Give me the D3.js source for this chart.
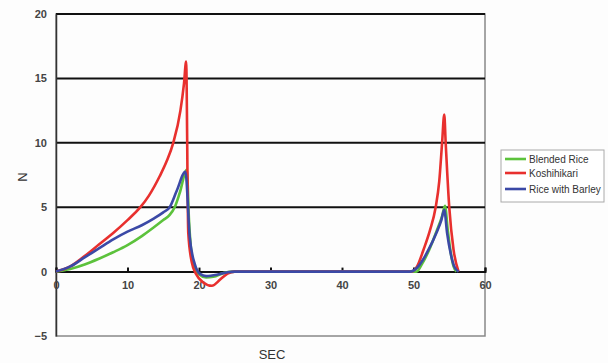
<!DOCTYPE html>
<meta charset="utf-8">
<html>
<script src="https://d3js.org/d3.v7.min.js"></script>
<body style="margin:0;background:#fdfdfd;">
<style>
    .tick text { font-family: "Liberation Sans", Arial, sans-serif; font-size: 11px; fill: #444; font-weight: bold; }
    .lbl { font-family: "Liberation Sans", Arial, sans-serif; font-size: 13px; fill: #333; }
    .leg { font-family: "Liberation Sans", Arial, sans-serif; font-size: 10px; fill: #333; }
</style>
<div id="chart"></div>
<script>
    // series data (seconds, newtons)
    var secBlended = [0, 2, 4, 6, 8, 10, 12, 13.6, 15, 15.9, 16.6, 17.3, 18.3, 18.6, 18.9, 19.4, 20, 21, 22, 23.5, 25, 50.4, 51.2, 52.2, 53.2, 54, 54.4, 54.8, 55.2, 55.6, 56];
    var nBlended   = [0, 0.2, 0.55, 1.0, 1.5, 2.05, 2.75, 3.4, 4.0, 4.4, 5.0, 6.1, 7.9, 4.0, 1.7, 0.4, -0.2, -0.45, -0.4, -0.1, 0, 0, 0.6, 1.7, 3.1, 4.3, 5.1, 3.2, 1.5, 0.4, 0];

    var secKoshi = [0, 2, 4, 6, 8, 10, 11.8, 13, 14.5, 15.5, 16.4, 17.4, 17.9, 18.2, 18.5, 19, 19.6, 20.5, 21.8, 23, 24, 25, 49.7, 50.5, 51.4, 52.3, 53.1, 53.6, 54, 54.3, 54.5, 55, 55.6, 56.3];
    var nKoshi   = [0, 0.4, 1.2, 2.1, 3.0, 4.0, 5.0, 5.9, 7.4, 8.6, 10.0, 12.5, 14.6, 16.3, 3.0, 0.7, -0.2, -0.8, -1.1, -0.6, -0.15, 0, 0, 0.4, 1.7, 3.2, 5.0, 7.0, 10.0, 12.2, 10.0, 5.0, 1.7, 0];

    var secBarley = [0, 2, 4, 6, 8, 10, 12, 13.6, 15, 15.9, 16.9, 18.1, 18.7, 19.4, 20.2, 21, 22.5, 24, 25, 49.5, 50.5, 51.3, 52.1, 53.2, 53.9, 54.3, 54.7, 55.2, 55.7, 56.3];
    var nBarley   = [0, 0.4, 1.1, 1.8, 2.5, 3.1, 3.6, 4.1, 4.6, 5.0, 6.3, 7.75, 2.7, 0.6, -0.2, -0.35, -0.25, -0.05, 0, 0, 0.3, 0.9, 1.7, 3.0, 4.0, 4.8, 3.0, 1.4, 0.4, 0];

    var seriesNames = ["Blended Rice", "Koshihikari", "Rice with Barley"];
    var seriesColors = ["#5cc23c", "#e8302e", "#3b49a6"];
    var xTicks = [0, 10, 20, 30, 40, 50, 60];
    var yTicks = [-5, 0, 5, 10, 15, 20];

    var width = 608, height = 363;
    var margin = {top: 14, right: 123, bottom: 27, left: 56};

    var svg = d3.select("#chart").append("svg")
        .attr("width", width)
        .attr("height", height);

    var x = d3.scaleLinear().domain([0, 60]).range([margin.left, width - margin.right]);
    var y = d3.scaleLinear().domain([-5, 20]).range([height - margin.bottom, margin.top]);

    //frame
    svg.append("rect")
        .attr("x", x(0)).attr("y", y(20))
        .attr("width", x(60) - x(0)).attr("height", y(-5) - y(20))
        .attr("fill", "none").attr("stroke", "#888").attr("stroke-width", 1.5);

    //grid lines
    svg.selectAll("line.grid")
        .data([5, 10, 15, 20])
        .enter().append("line")
        .attr("class", "grid")
        .attr("x1", x(0)).attr("x2", x(60))
        .attr("y1", function(d) {return y(d);})
        .attr("y2", function(d) {return y(d);})
        .attr("stroke", "#111").attr("stroke-width", 2);

    //left axis
    var yAxis = svg.append("g")
        .attr("transform", "translate(" + x(0) + ",0)")
        .call(d3.axisLeft(y).tickValues(yTicks).tickSize(0).tickPadding(9)
            .tickFormat(function(d) {return d < 0 ? "\u2212" + Math.abs(d) : d;}));
    yAxis.select(".domain").attr("stroke", "#333").attr("stroke-width", 1.5);

    //zero line with ticks
    var xAxis = svg.append("g")
        .attr("transform", "translate(0," + y(0) + ")")
        .call(d3.axisTop(x).tickValues(xTicks).tickSize(4).tickFormat(""));
    xAxis.select(".domain").attr("stroke", "#111").attr("stroke-width", 2);
    xAxis.selectAll(".tick line").attr("stroke", "#111").attr("stroke-width", 2);

    svg.append("g")
        .attr("transform", "translate(0," + y(0) + ")")
        .call(d3.axisBottom(x).tickValues(xTicks).tickSize(0).tickPadding(10))
        .select(".domain").remove();

    //axis labels
    svg.append("text")
        .attr("class", "lbl")
        .attr("transform", "translate(27," + ((y(20) + y(-5)) / 2 + 2) + ") rotate(-90)")
        .attr("text-anchor", "middle")
        .text("N");

    svg.append("text")
        .attr("class", "lbl")
        .attr("x", 272).attr("y", 359)
        .attr("text-anchor", "middle")
        .text("SEC");

    //lines
    var allSecs = [secBlended, secKoshi, secBarley];
    var allN = [nBlended, nKoshi, nBarley];

    var line = d3.line()
        .x(function(d) {return x(d[0]);})
        .y(function(d) {return y(d[1]);})
        .curve(d3.curveMonotoneX);

    var drawOrder = [0, 1, 2];
    drawOrder.forEach(function(i) {
        var pts = allSecs[i].map(function(s, j) {return [s, allN[i][j]];});
        svg.append("path")
            .datum(pts)
            .attr("d", line)
            .attr("fill", "none")
            .attr("stroke", seriesColors[i])
            .attr("stroke-width", 2.6)
            .attr("stroke-linejoin", "round");
    });

    //legend
    var legend = svg.append("g").attr("transform", "translate(501,150)");
    legend.append("rect")
        .attr("width", 103).attr("height", 52)
        .attr("fill", "#fff").attr("stroke", "#aaa").attr("stroke-width", 1);

    var legY = [9, 23, 39];
    seriesNames.forEach(function(name, i) {
        legend.append("line")
            .attr("x1", 4).attr("x2", 25)
            .attr("y1", legY[i]).attr("y2", legY[i])
            .attr("stroke", seriesColors[i]).attr("stroke-width", 2.6);
        legend.append("text")
            .attr("class", "leg")
            .attr("x", 28).attr("y", legY[i] + 3.5)
            .text(name);
    });
</script>
</body>
</html>
